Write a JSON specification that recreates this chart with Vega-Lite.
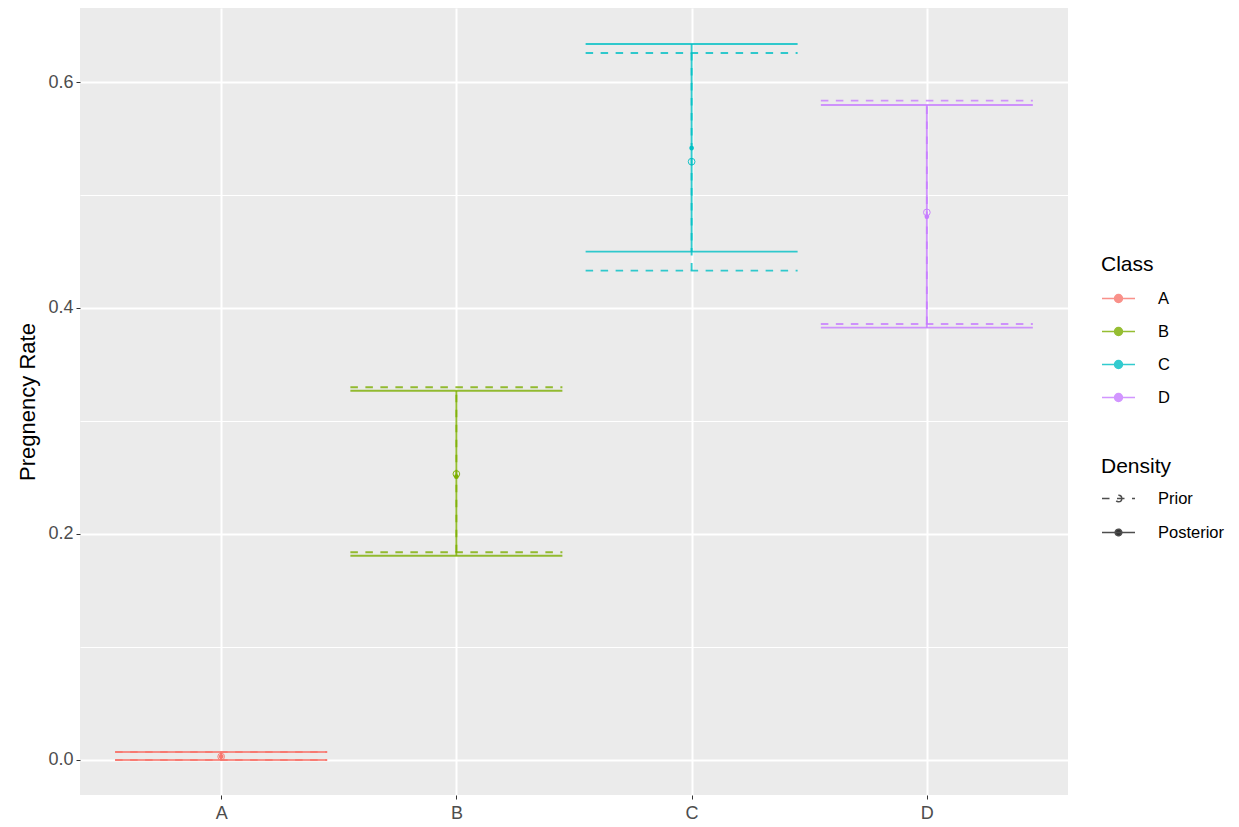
{
  "$schema": "https://vega.github.io/schema/vega-lite/v6.json",
  "width": 988,
  "height": 787,
  "autosize": "none",
  "padding": {"left": 80, "top": 8, "right": 171, "bottom": 32},
  "background": "white",
  "config": {
    "font": "Liberation Sans",
    "view": {"fill": "#EBEBEB", "stroke": null},
    "axis": {
      "domain": false,
      "gridColor": "white",
      "labelColor": "#4D4D4D",
      "labelFontSize": 18,
      "tickColor": "#333333",
      "tickSize": 4,
      "titleFontSize": 22,
      "titleFontWeight": "normal",
      "titleColor": "black"
    },
    "legend": {
      "titleFontSize": 21,
      "titleFontWeight": "normal",
      "titleColor": "black",
      "labelFontSize": 16.5,
      "labelColor": "black"
    }
  },
  "data": {
    "values": [
      {"Class": "A", "Density": "Prior", "mean": 0.003, "lower": 0.0, "upper": 0.007},
      {"Class": "A", "Density": "Posterior", "mean": 0.003, "lower": 0.0, "upper": 0.007},
      {"Class": "B", "Density": "Prior", "mean": 0.2531, "lower": 0.1838, "upper": 0.3298},
      {"Class": "B", "Density": "Posterior", "mean": 0.2507, "lower": 0.1808, "upper": 0.3268},
      {"Class": "C", "Density": "Prior", "mean": 0.5295, "lower": 0.4331, "upper": 0.6257},
      {"Class": "C", "Density": "Posterior", "mean": 0.5416, "lower": 0.4499, "upper": 0.6336},
      {"Class": "D", "Density": "Prior", "mean": 0.4846, "lower": 0.3858, "upper": 0.5835},
      {"Class": "D", "Density": "Posterior", "mean": 0.4808, "lower": 0.3826, "upper": 0.5796}
    ]
  },
  "encoding": {
    "x": {
      "field": "Class",
      "type": "nominal",
      "scale": {"type": "point", "padding": 0.6},
      "axis": {"title": null, "labelAngle": 0, "gridWidth": 2, "grid": true, "labelPadding": 5, "labelFontSize": 18, "labelColor": "#4D4D4D"}
    }
  },
  "layer": [
    {
      "mark": {"type": "rule", "strokeWidth": 1.9, "opacity": 0.8},
      "encoding": {
        "y": {
          "field": "lower",
          "type": "quantitative",
          "scale": {"domain": [-0.031, 0.6655], "nice": false, "zero": false},
          "axis": {
            "title": "Pregnency Rate",
            "titlePadding": 8,
            "titleFontSize": 22,
            "labelFontSize": 18,
            "labelColor": "#4D4D4D",
            "labelPadding": 3,
            "values": [0, 0.1, 0.2, 0.3, 0.4, 0.5, 0.6],
            "labelExpr": "round(datum.value*10)%2==0 ? format(datum.value, '.1f') : ''",
            "gridWidth": {"condition": {"test": "round(datum.value*10)%2==1", "value": 1}, "value": 2},
            "tickOpacity": {"condition": {"test": "round(datum.value*10)%2==1", "value": 0}, "value": 1}
          }
        },
        "y2": {"field": "upper"},
        "color": {
          "field": "Class",
          "type": "nominal",
          "scale": {"domain": ["A", "B", "C", "D"], "range": ["#F8766D", "#7CAE00", "#00BFC4", "#C77CFF"]},
          "legend": {
            "orient": "none",
            "legendX": 1021,
            "legendY": 246,
            "symbolType": "M-1,0H1M0.24,0A0.24,0.24 0 1,1 -0.24,0A0.24,0.24 0 1,1 0.24,0",
            "symbolSize": 1089,
            "symbolStrokeWidth": 1.5,
            "rowPadding": 7,
            "labelOffset": 22,
            "titlePadding": 6
          }
        },
        "strokeDash": {
          "field": "Density",
          "type": "nominal",
          "title": "Density",
          "scale": {"domain": ["Prior", "Posterior"], "range": [[7.5, 7.5], [1, 0]]},
          "legend": {
            "orient": "none",
            "legendX": 1021,
            "legendY": 448,
            "symbolType": "M-1,0H1M0.2,0A0.2,0.2 0 1,1 -0.2,0A0.2,0.2 0 1,1 0.2,0",
            "symbolSize": 1089,
            "symbolStrokeColor": "#222222",
            "symbolStrokeWidth": 1.5,
            "rowPadding": 8,
            "labelOffset": 22,
            "titlePadding": 4
          }
        }
      }
    },
    {
      "mark": {"type": "rule", "strokeWidth": 1.9, "opacity": 0.8, "xOffset": -106, "x2Offset": 106},
      "encoding": {
        "x2": {"field": "Class"},
        "y": {"field": "lower", "type": "quantitative"},
        "color": {"field": "Class", "type": "nominal"},
        "strokeDash": {"field": "Density", "type": "nominal"}
      }
    },
    {
      "mark": {"type": "rule", "strokeWidth": 1.9, "opacity": 0.8, "xOffset": -106, "x2Offset": 106},
      "encoding": {
        "x2": {"field": "Class"},
        "y": {"field": "upper", "type": "quantitative"},
        "color": {"field": "Class", "type": "nominal"},
        "strokeDash": {"field": "Density", "type": "nominal"}
      }
    },
    {
      "mark": {"type": "point", "filled": true, "size": 0, "strokeWidth": 0},
      "encoding": {
        "y": {"field": "mean", "type": "quantitative"},
        "fill": {
          "field": "Density",
          "type": "nominal",
          "title": "Density",
          "scale": {"domain": ["Prior", "Posterior"], "range": ["transparent", "#000000"]}
        }
      }
    },
    {
      "transform": [{"filter": "datum.Density == 'Prior'"}],
      "mark": {"type": "point", "filled": false, "size": 45, "strokeWidth": 1, "opacity": 0.9},
      "encoding": {
        "y": {"field": "mean", "type": "quantitative"},
        "color": {"field": "Class", "type": "nominal"}
      }
    },
    {
      "transform": [{"filter": "datum.Density == 'Posterior'"}],
      "mark": {"type": "point", "filled": true, "size": 22, "opacity": 1},
      "encoding": {
        "y": {"field": "mean", "type": "quantitative"},
        "color": {"field": "Class", "type": "nominal"}
      }
    }
  ]
}
